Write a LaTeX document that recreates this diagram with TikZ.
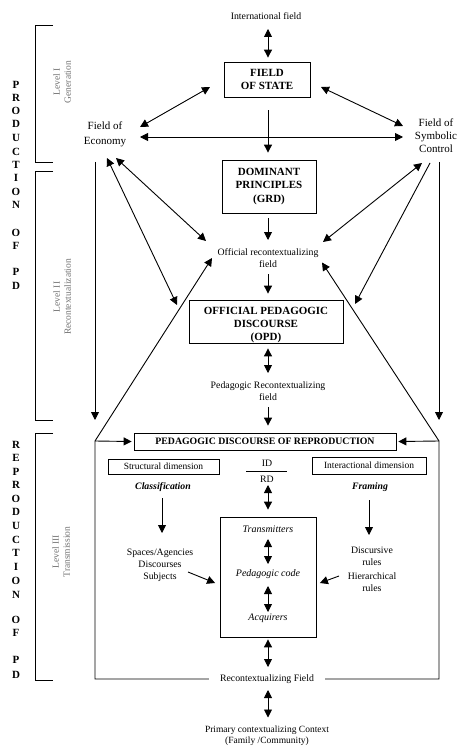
\documentclass[tikz,border=0pt]{standalone}
\usepackage{fontspec}
\setmainfont{Liberation Serif}
\usetikzlibrary{arrows.meta,calc}
\begin{document}
\begin{tikzpicture}[x=1pt,y=-1pt,
  tip/.tip={Triangle[length=8pt,width=8pt]},
  arr/.style={-tip, line width=0.9pt},
  dbl/.style={tip-tip, line width=0.9pt},
  lbl/.style={font=\fontsize{9.8}{11.5}\selectfont, align=center, inner sep=1pt},
  big/.style={font=\fontsize{11}{15}\selectfont, align=center, inner sep=1pt},
  ital/.style={font=\itshape\fontsize{10}{12}\selectfont, inner sep=1pt},
  bital/.style={font=\bfseries\itshape\fontsize{9.8}{12}\selectfont, inner sep=1pt},
  titlebox/.style={draw, line width=0.8pt, font=\bfseries\fontsize{11}{13.2}\selectfont, align=center, inner sep=0pt},
  plainbox/.style={draw, line width=0.8pt, inner sep=0pt},
  levtext/.style={font=\fontsize{9.5}{11}\selectfont, text=black!55, align=center, rotate=90, inner sep=0pt},
  vlet/.style={font=\bfseries\fontsize{11}{12}\selectfont, inner sep=0pt},
  bracket/.style={line width=0.9pt}
]
\useasboundingbox (0,0) rectangle (459,746);
\fill[white] (0,0) rectangle (459,746);

% ---------- left column: vertical letters ----------
\foreach \l/\y [count=\i] in {P/85,R/97.5,O/111,D/124,U/137.5,C/151.5,T/165,I/178,O/192,N/205,O/233,F/246,P/272,D/286}
  \node[vlet] (pa\i) at (16,\y) {\l};
\foreach \l/\y [count=\i] in {R/445,E/458,P/471.5,R/485,O/498.5,D/512,U/525.5,C/539.5,T/553,I/567,O/580.5,N/595,O/620,F/633,P/660,D/675}
  \node[vlet] (pb\i) at (16,\y) {\l};

% ---------- brackets ----------
\draw[bracket] (53,25) -| (35,162) -- (53,162);
\draw[bracket] (53,171) -| (35,420) -- (53,420);
\draw[bracket] (53,433) -| (35,680) -- (53,680);

\node[levtext] (lev1) at (62,82) {Level I\\Generation};
\node[levtext] (lev2) at (62,297) {Level II\\Recontextualization};
\node[levtext] (lev3) at (61,552) {Level III\\Transmission};

% ---------- nodes ----------
\node[lbl] (intl) at (266,16) {International field};
\node[titlebox, minimum width=86pt, minimum height=35pt] (state) at (267,79.5) {FIELD\\OF STATE};
\node[big] (econ) at (105,134) {Field of\\Economy};
\node[big, font=\fontsize{11}{13}\selectfont] (symb) at (436,136) {Field of\\Symbolic\\Control};
\node[titlebox, minimum width=94pt, minimum height=53pt, font=\bfseries\fontsize{11}{13.5}\selectfont] (grd) at (269,186.5) {DOMINANT\\PRINCIPLES\\(GRD)};
\node[lbl] (orf) at (268,258) {Official recontextualizing\\field};
\node[plainbox, minimum width=154pt, minimum height=43pt] (opd) at (266,321.5) {};
\node[font=\bfseries\fontsize{11}{13}\selectfont, align=center, inner sep=0pt] (opdtext) at (266,325) {OFFICIAL PEDAGOGIC\\DISCOURSE\\(OPD)};
\node[lbl] (prf) at (268,391) {Pedagogic Recontextualizing\\field};
\node[titlebox, minimum width=262pt, minimum height=17pt, font=\bfseries\fontsize{9.8}{12}\selectfont] (pdr) at (265,441.5) {PEDAGOGIC DISCOURSE OF REPRODUCTION};
\node[plainbox, minimum width=111pt, minimum height=15pt, font=\fontsize{9.5}{11}\selectfont] (sdim) at (163.5,466.5) {Structural dimension};
\node[plainbox, minimum width=114pt, minimum height=17pt, font=\fontsize{9.5}{11}\selectfont] (idim) at (369,465.5) {Interactional dimension};
\node[bital] (class) at (163,487) {Classification};
\node[bital] (framing) at (370,487) {Framing};
\node[lbl] (id) at (267,463) {ID};
\node[lbl] (rd) at (267,479) {RD};
\node[lbl, font=\fontsize{9.8}{12}\selectfont] (spaces) at (160,565) {Spaces/Agencies\\Discourses\\Subjects};
\node[lbl, font=\fontsize{9.8}{12}\selectfont] (disc) at (372,556) {Discursive\\rules};
\node[lbl, font=\fontsize{9.8}{12}\selectfont] (hier) at (372,582) {Hierarchical\\rules};
\node[plainbox, minimum width=96pt, minimum height=120pt] (inner) at (268.5,577) {};
\node[ital] (trans) at (268,529) {Transmitters};
\node[ital] (pcode) at (268,574) {Pedagogic code};
\node[ital] (acq) at (268,618) {Acquirers};
\node[lbl, fill=white, inner xsep=11pt] (recf) at (267,679) {Recontextualizing Field};
\node[lbl, font=\fontsize{9.5}{11}\selectfont] (prim) at (267,735.5) {Primary contextualizing Context\\(Family /Community)};

\coordinate (fl) at (95,441);
\coordinate (fr) at (439,441);

% ---------- central axis arrows ----------
\draw[dbl] ($(intl)+(2,13)$) -- ($(state.north)+(1,-4)$);
\draw[arr] ($(state.south)+(1,13)$) -- ($(grd.north)+(-1,-7)$);
\draw[arr] ($(grd.south)+(-1,5)$) -- ($(orf)+(0,-18)$);
\draw[arr] ($(orf)+(0,16)$) -- ($(opd.north)+(2,-6)$);
\draw[dbl] ($(opd.south)+(2,5)$) -- ($(prf)+(0,-18)$);
\draw[arr] ($(prf)+(0,16)$) -- ($(pdr.north)+(3,-7)$);
\draw[line width=0.8pt] ($(id)+(-21,8.5)$) -- ($(rd)+(20,-7.5)$);
\draw[dbl] ($(rd)+(1,6)$) -- ($(inner.north)+(-0.5,-7)$);
\draw[dbl] ($(trans)+(0,10)$) -- ($(pcode)+(0,-10)$);
\draw[dbl] ($(pcode)+(0,12)$) -- ($(acq)+(0,-6)$);
\draw[dbl] ($(inner.south)+(-0.5,2)$) -- ($(recf)+(1,-12)$);
\draw[dbl] ($(recf)+(1,11)$) -- ($(prim)+(1,-18)$);

% ---------- level I arrows ----------
\draw[dbl] ($(econ)+(35,-7)$) -- ($(state)+(-57,7.5)$);
\draw[dbl] ($(state)+(54,7.5)$) -- ($(symb)+(-33,-10)$);
\draw[dbl] ($(econ)+(35,3)$) -- ($(symb)+(-33,1)$);

% ---------- level II arrows ----------
\draw[dbl] ($(econ)+(11,24)$) -- ($(orf)+(-62,-17)$);
\draw[dbl] ($(econ)+(2,24)$) -- ($(opd)+(-89,-16.5)$);
\draw[dbl] ($(symb)+(-14,27)$) -- ($(orf)+(55,-16)$);
\draw[arr] ($(symb)+(-6,27)$) -- ($(opd)+(89,-17.5)$);
\draw[arr] ($(econ)+(-10,28)$) -- ($(fl)+(0,-21)$);
\draw[arr] ($(symb)+(3,26)$) -- ($(fr)+(0,-21)$);

% ---------- frame ----------
\draw[arr] (recf.west) -| (fl) -- ($(orf)+(-56,0)$);
\draw[arr] (recf.east) -| (fr) -- ($(orf)+(54,4.5)$);
\draw[arr] (fl) -- ($(pdr.west)+(-2,0)$);
\draw[arr] (fr) -- ($(pdr.east)+(2,0)$);

% ---------- level III arrows ----------
\draw[arr] ($(class)+(-1,11)$) -- ($(spaces)+(2,-32)$);
\draw[arr] ($(framing)+(-1,13)$) -- ($(disc)+(-3,-21)$);
\draw[arr] ($(spaces)+(28,7)$) -- ($(inner.west)+(-5,6)$);
\draw[arr] ($(hier)+(-33,-6)$) -- ($(inner.east)+(3,6)$);
\end{tikzpicture}
\end{document}
